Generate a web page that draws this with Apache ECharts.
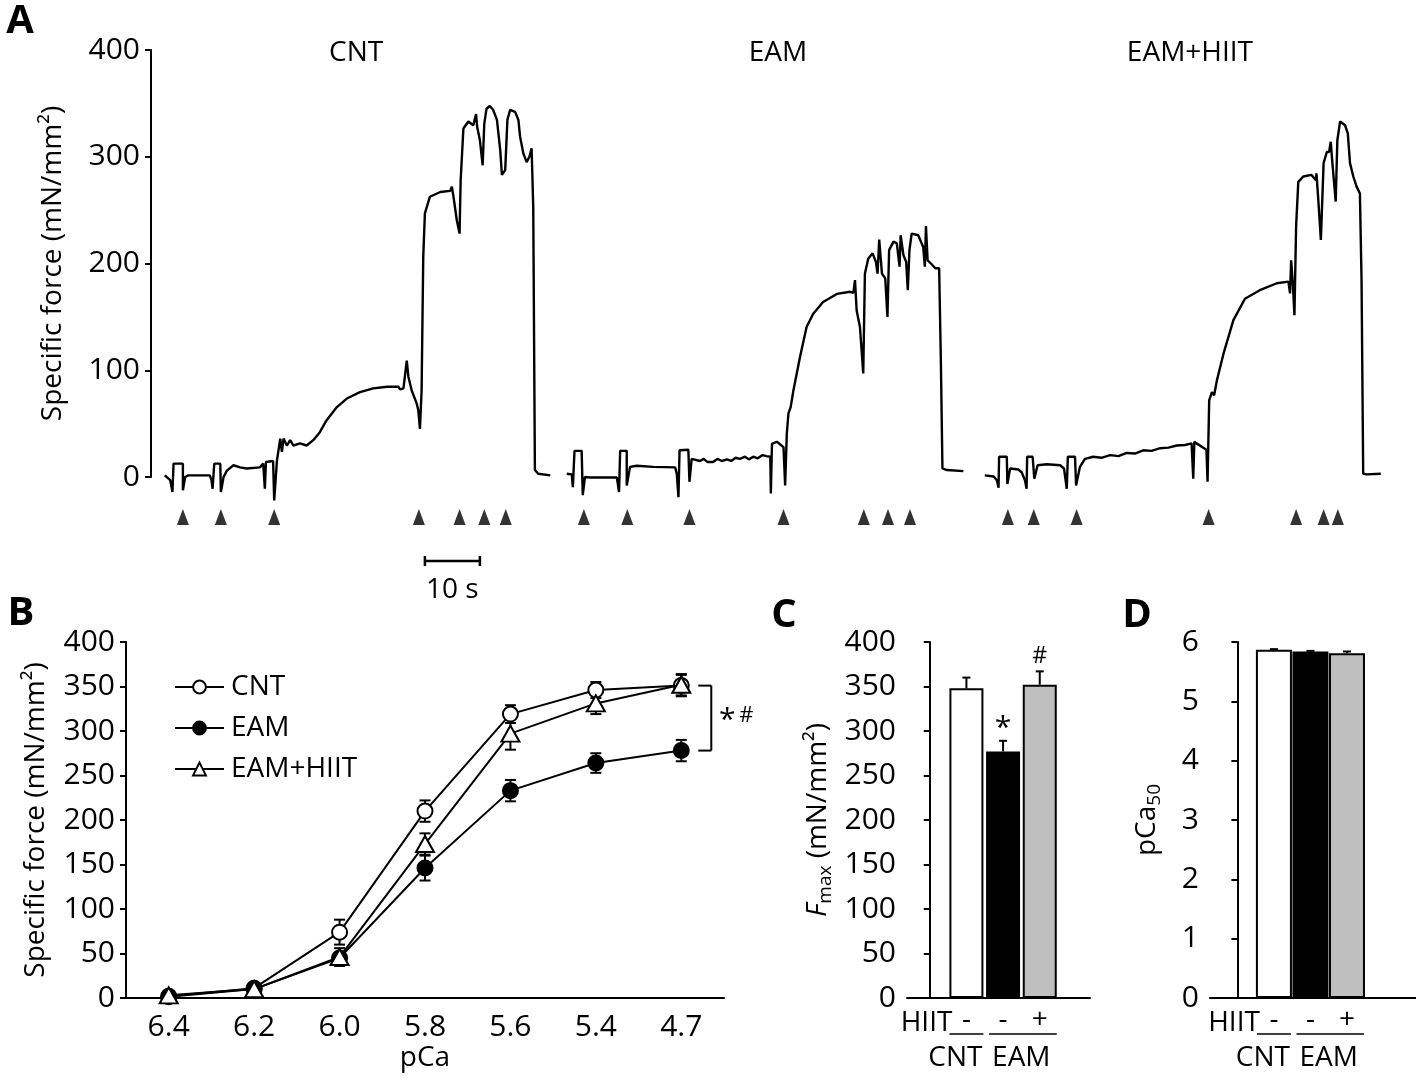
<!DOCTYPE html>
<html><head><meta charset="utf-8">
<script src="https://cdn.jsdelivr.net/npm/echarts@6/dist/echarts.min.js"></script>
<style>html,body{margin:0;padding:0;background:#fff}#c{width:1416px;height:1086px}</style>
</head><body><div id="c"></div>
<script>
// ---------- Panel A: force traces [time (s), specific force (mN/mm²)] ----------
const traceCNT = [[2.5,1.5],[3.5,-3],[3.9,-14],[4.1,12.5],[5.8,12.5],[5.8,-12.5],[6.2,0],[6.8,1.5],[10.7,1.5],[11.0,-3],[11.2,-11],[11.5,12.5],[12.6,12.5],[12.7,-14],[13.2,0],[13.8,6],[15.0,11],[16.2,9],[17.4,8],[19.8,9],[20.4,12.5],[20.7,-11],[20.9,14],[22.2,15],[22.4,-22],[22.9,15.5],[23.5,36],[23.8,23.5],[24.1,36],[24.7,29.5],[25.3,34.5],[25.9,29.5],[27.1,31.5],[28.3,29.5],[29.5,34.5],[30.7,42],[31.9,53],[33.8,65.5],[35.6,73.5],[38.0,79.5],[40.4,83],[42.9,84.5],[45.0,84.5],[45.3,82],[45.9,83],[46.5,109],[46.8,94],[47.4,81],[48.3,69],[48.6,62.5],[48.9,45],[49.2,81],[49.5,206],[49.8,247],[50.7,262.5],[52.6,267],[54.4,268],[54.7,272],[55.0,262.5],[55.6,240.5],[56.1,228],[56.3,278],[56.8,326.5],[57.7,333],[58.6,329.5],[59.1,340],[59.3,328],[59.8,315.5],[60.3,292],[60.6,331],[61.0,345],[61.6,347.5],[62.2,344],[62.9,334.5],[63.5,306],[63.8,283],[64.4,287.5],[64.8,334.5],[65.3,344],[66.2,342],[66.8,334.5],[67.1,319],[67.7,303],[68.3,295],[68.8,300],[69.2,308],[69.5,253],[69.8,6.5],[70.4,3],[72.6,1.5]];
const traceEAM = [[75.6,3],[76.5,2.5],[76.7,-9.5],[77.0,24.5],[78.3,24.5],[78.5,-17],[78.9,0],[79.8,-0.5],[84.7,-0.5],[85.1,-14],[85.3,24.5],[86.5,24.5],[86.5,-8],[87.1,9.5],[88.3,10.5],[91.3,9.5],[95.3,9],[95.6,3],[95.9,-19],[96.1,25],[97.7,25.5],[97.9,-4.5],[98.3,17],[99.8,15],[100.5,17],[101.2,14],[102.2,14],[103.0,17],[103.8,15],[104.7,16.5],[105.5,15],[106.3,18],[107.1,17],[108.0,19],[108.7,16.5],[109.5,19],[110.3,17.5],[111.2,20.5],[111.9,19.5],[112.6,19],[112.7,-15.5],[112.9,31],[113.8,33],[115.0,28],[115.3,-8],[115.6,40.5],[115.9,59.5],[116.3,65.5],[116.8,81],[118.0,112.5],[119.2,140.5],[120.4,153],[122.2,164],[124.7,171.5],[127.1,173.5],[127.7,172.5],[128.0,184.5],[128.3,156],[128.9,140.5],[129.5,97],[129.8,190.5],[130.4,204.5],[131.2,209.5],[131.8,201.5],[132.1,190.5],[132.4,222.5],[132.9,190.5],[133.5,186],[133.9,150],[134.2,212.5],[135.0,220.5],[135.6,219],[136.1,197],[136.3,226.5],[136.8,208],[137.3,201.5],[137.6,175],[137.9,212.5],[138.3,228],[139.5,226.5],[140.4,215.5],[140.7,197],[140.9,235],[141.2,203],[141.8,200],[142.6,195.5],[143.3,195.5],[143.6,112.5],[143.9,8],[144.7,6.5],[147.7,5.5]];
const traceHIIT = [[151.6,1.5],[153.2,0.5],[153.8,-3],[154.1,-10],[154.2,19],[155.6,19],[155.7,-6.5],[156.2,8],[157.7,7],[158.3,4.5],[158.9,-3],[159.2,-11],[159.3,19],[160.3,19],[160.6,-1.5],[161.2,11],[162.9,12],[165.3,11],[166.0,8],[166.5,-11],[166.7,19],[168.0,19],[168.2,-8],[168.9,9.5],[169.8,17],[171.3,19],[172.8,18],[174.4,20.5],[175.9,19.5],[177.4,22.5],[178.9,22],[180.4,25],[181.9,24.5],[183.5,27],[185.0,27.5],[186.5,29.5],[188.0,30],[189.2,31.5],[189.5,-1.5],[189.7,33],[190.1,31.5],[191.9,25.5],[192.1,-4.5],[192.4,72],[192.9,79.5],[193.3,76.5],[193.8,90.5],[195.0,115.5],[196.8,147],[198.9,167],[201.6,175],[204.7,181.5],[206.8,183],[207.1,172],[207.3,203],[207.6,181.5],[207.9,151.5],[208.2,234.5],[208.6,276.5],[209.5,281.5],[211.0,283],[211.8,278],[211.9,284.5],[212.2,262.5],[212.7,222],[213.2,294],[213.8,304.5],[214.2,304.5],[214.5,314],[214.8,294],[215.4,258],[215.7,315.5],[216.2,333],[217.1,329.5],[217.6,322],[218.0,294],[218.6,281.5],[219.2,272],[219.8,265.5],[220.1,184.5],[220.4,3],[221.0,2.5],[223.6,3]];
const stimTimes = [5.8,12.7,22.4,48.7,56.1,60.6,64.5, 78.7,86.6,97.9,115.0,129.6,134.0,138.0, 155.8,160.5,168.3,192.3,208.2,213.2,215.8];
const scaleBarSec = [[49.8, 10]];
const traceTitles = ['CNT','EAM','EAM+HIIT'];

// ---------- Panel B: force–pCa ----------
const pCaLabels = ['6.4','6.2','6.0','5.8','5.6','5.4','4.7'];
const forceCNT = [2, 11, 74, 210, 319, 346, 351];
const forceCNTErr = [3, 3, 14, 12, 10, 9, 12];
const forceEAM = [1.5, 10, 45, 146, 233, 264, 278];
const forceEAMErr = [3, 3, 6, 14, 12, 11, 12];
const forceHIIT = [3, 10, 46, 173, 297, 331, 352];
const forceHIITErr = [3, 3, 10, 12, 18, 12, 12];

// ---------- Panels C & D ----------
const groups = ['CNT','EAM','EAM+HIIT'];
const hiitSign = ['-','-','+'];
const fmax = [348, 277, 352];
const fmaxErr = [12, 12, 15];
const fmaxMarks = ['', '*', '#'];
const pca50 = [5.87, 5.84, 5.81];
const pca50Err = [0.01, 0.01, 0.03];
const barColors = ['#ffffff', '#000000', '#bfbfbf'];

const FF = 'Open Sans';
const FS = 28;
const TFS = 30;
const chart = echarts.init(document.getElementById('c'), null, {renderer:'canvas'});

const blackAxis = {lineStyle:{color:'#000', width:2}};
const yLab = {color:'#000', fontSize:TFS, fontFamily:FF, margin:11};

function errRender(capW, upOnly){
  return function(params, api){
    const x = api.value(0), v = api.value(1), e = api.value(2);
    const top = api.coord([x, v + e]);
    const bot = api.coord([x, upOnly ? v : v - e]);
    const st = {stroke:'#000', lineWidth:2};
    return {type:'group', children:[
      {type:'line', shape:{x1:top[0], y1:top[1], x2:bot[0], y2:bot[1]}, style:st},
      {type:'line', shape:{x1:top[0]-capW/2, y1:top[1], x2:top[0]+capW/2, y2:top[1]}, style:st},
      upOnly ? null : {type:'line', shape:{x1:bot[0]-capW/2, y1:bot[1], x2:bot[0]+capW/2, y2:bot[1]}, style:st}
    ].filter(Boolean)};
  };
}

const option = {
  animation:false,
  backgroundColor:'#fff',
  textStyle:{fontFamily:FF},
  grid:[
    {left:151, top:50, width:1254, height:427},
    {left:151, top:504, width:1254, height:26},
    {left:151, top:548, width:1254, height:26},
    {left:126, top:642, width:598, height:356},
    {left:907, top:642, width:183, height:356},
    {left:1210, top:642, width:206, height:356}
  ],
  xAxis:[
    {gridIndex:0, type:'value', min:0, max:228, show:false},
    {gridIndex:1, type:'value', min:0, max:228, show:false},
    {gridIndex:2, type:'value', min:0, max:228, show:false},
    {gridIndex:3, type:'category', data:pCaLabels, boundaryGap:true,
      axisLine:blackAxis, axisTick:{show:false},
      axisLabel:{color:'#000', fontSize:TFS, fontFamily:FF, margin:14},
      name:'pCa', nameLocation:'middle', nameGap:46,
      nameTextStyle:{color:'#000', fontSize:FS, fontFamily:FF}},
    {gridIndex:4, type:'value', min:-0.62, max:4.37, axisLine:blackAxis,
      axisTick:{show:false}, axisLabel:{show:false}, splitLine:{show:false}},
    {gridIndex:5, type:'value', min:-0.75, max:4.89, axisLine:blackAxis,
      axisTick:{show:false}, axisLabel:{show:false}, splitLine:{show:false}}
  ],
  yAxis:[
    {gridIndex:0, type:'value', min:0, max:400, interval:100,
      axisLine:{show:true, lineStyle:{color:'#000', width:2}},
      axisTick:{show:true, length:6, lineStyle:{color:'#000', width:2}},
      axisLabel:yLab, splitLine:{show:false},
      name:'Specific force (mN/mm²)', nameLocation:'middle', nameGap:84,
      nameTextStyle:{color:'#000', fontSize:FS, fontFamily:FF}},
    {gridIndex:1, type:'value', min:0, max:1, show:false},
    {gridIndex:2, type:'value', min:0, max:1, show:false},
    {gridIndex:3, type:'value', min:0, max:400, interval:50,
      axisLine:{show:true, lineStyle:{color:'#000', width:2}},
      axisTick:{show:true, length:6, lineStyle:{color:'#000', width:2}},
      axisLabel:yLab, splitLine:{show:false},
      name:'Specific force (mN/mm²)', nameLocation:'middle', nameGap:76,
      nameTextStyle:{color:'#000', fontSize:FS, fontFamily:FF}},
    {gridIndex:4, type:'value', min:0, max:400, interval:50,
      axisLine:{show:true, lineStyle:{color:'#000', width:2}},
      axisTick:{show:true, length:6, lineStyle:{color:'#000', width:2}},
      axisLabel:yLab, splitLine:{show:false},
      name:'{i|F}{s|max} (mN/mm²)', nameLocation:'middle', nameGap:72,
      nameTextStyle:{color:'#000', fontSize:FS, fontFamily:FF,
        rich:{i:{fontStyle:'italic', fontSize:FS, fontFamily:FF, color:'#000'},
              s:{fontSize:19, fontFamily:FF, color:'#000', padding:[14,0,0,0]}}}},
    {gridIndex:5, type:'value', min:0, max:6, interval:1,
      axisLine:{show:true, lineStyle:{color:'#000', width:2}},
      axisTick:{show:true, length:6, lineStyle:{color:'#000', width:2}},
      axisLabel:yLab, splitLine:{show:false},
      name:'{n|pCa}{s|50}', nameLocation:'middle', nameGap:46,
      nameTextStyle:{color:'#000', fontSize:FS, fontFamily:FF,
        rich:{n:{fontSize:FS, fontFamily:FF, color:'#000'},
              s:{fontSize:19, fontFamily:FF, color:'#000', padding:[14,0,0,0]}}}}
  ],
  legend:{
    orient:'vertical', left:169, top:668, itemWidth:49, itemHeight:16, itemGap:13,
    data:['CNT','EAM','EAM+HIIT'],
    textStyle:{color:'#000', fontSize:FS, fontFamily:FF, padding:[0,0,0,2]}
  },
  series:[
    ...[traceCNT, traceEAM, traceHIIT].map((d,i)=>({
      type:'line', name:'trace'+i, xAxisIndex:0, yAxisIndex:0, data:d,
      showSymbol:false, symbol:'none', clip:false,
      lineStyle:{color:'#000', width:2.4}, silent:true
    })),
    {type:'scatter', xAxisIndex:1, yAxisIndex:1, data:stimTimes.map(t=>[t,0.5]),
      symbol:'triangle', symbolSize:[12,16], itemStyle:{color:'#000'}, silent:true},
    {type:'custom', xAxisIndex:2, yAxisIndex:2, data:scaleBarSec, silent:true,
      renderItem:function(params, api){
        const s = api.value(0), len = api.value(1);
        const p0 = api.coord([s, 0.5]), p1 = api.coord([s+len, 0.5]);
        const st = {stroke:'#000', lineWidth:2.5};
        return {type:'group', children:[
          {type:'line', shape:{x1:p0[0], y1:p0[1], x2:p1[0], y2:p1[1]}, style:st},
          {type:'line', shape:{x1:p0[0], y1:p0[1]-5, x2:p0[0], y2:p0[1]+5}, style:st},
          {type:'line', shape:{x1:p1[0], y1:p1[1]-5, x2:p1[0], y2:p1[1]+5}, style:st},
          {type:'text', x:(p0[0]+p1[0])/2, y:p0[1]+29,
            style:{text:len+' s', fill:'#000', fontSize:FS, fontFamily:FF,
              align:'center', verticalAlign:'middle', textAlign:'center', textVerticalAlign:'middle'}}
        ]};
      }},
    ...[[forceCNT,forceCNTErr],[forceEAM,forceEAMErr],[forceHIIT,forceHIITErr]].map(([v,e])=>({
      type:'custom', xAxisIndex:3, yAxisIndex:3, z:1, silent:true,
      data:v.map((y,i)=>[i, y, e[i]]), renderItem:errRender(11, false)
    })),
    {type:'line', name:'CNT', xAxisIndex:3, yAxisIndex:3, data:forceCNT, z:3,
      symbol:'circle', symbolSize:15, lineStyle:{color:'#000', width:2},
      itemStyle:{color:'#fff', borderColor:'#000', borderWidth:2}},
    {type:'line', name:'EAM', xAxisIndex:3, yAxisIndex:3, data:forceEAM, z:3,
      symbol:'circle', symbolSize:15, lineStyle:{color:'#000', width:2},
      itemStyle:{color:'#000', borderColor:'#000', borderWidth:2}},
    {type:'line', name:'EAM+HIIT', xAxisIndex:3, yAxisIndex:3, data:forceHIIT, z:4,
      symbol:'triangle', symbolSize:[18,16], lineStyle:{color:'#000', width:2},
      itemStyle:{color:'#fff', borderColor:'#000', borderWidth:2}},
    {type:'custom', xAxisIndex:4, yAxisIndex:4, z:1, silent:true,
      data:fmax.map((v,i)=>[i+1, v, fmaxErr[i]]), renderItem:errRender(8, true)},
    {type:'bar', xAxisIndex:4, yAxisIndex:4, barWidth:34, z:2, silent:true,
      data:fmax.map((v,i)=>({value:[i+1, v], itemStyle:{color:barColors[i], borderColor:'#000', borderWidth:2}}))},
    {type:'custom', xAxisIndex:5, yAxisIndex:5, z:1, silent:true,
      data:pca50.map((v,i)=>[i+1, v, pca50Err[i]]), renderItem:errRender(8, true)},
    {type:'bar', xAxisIndex:5, yAxisIndex:5, barWidth:36, z:2, silent:true,
      data:pca50.map((v,i)=>({value:[i+1, v], itemStyle:{color:barColors[i], borderColor:'#000', borderWidth:2}}))}
  ]
};
chart.setOption(option);

// ---------- annotations positioned through the axes ----------
const g = [];
const txt = (x,y,text,opt)=>Object.assign({type:'text', x, y, silent:true,
  style:Object.assign({text, fill:'#000', fontSize:FS, fontFamily:FF,
    align:'center', verticalAlign:'middle', textAlign:'center', textVerticalAlign:'middle'}, opt||{})});
const hline = (x1,y1,x2,y2,w)=>({type:'line', silent:true, shape:{x1,y1,x2,y2}, style:{stroke:'#000', lineWidth:w||2}});

g.push(txt(20, 22, 'A', {fontSize:40, fontWeight:'bold'}));
g.push(txt(21, 614, 'B', {fontSize:40, fontWeight:'bold'}));
g.push(txt(784, 616, 'C', {fontSize:40, fontWeight:'bold'}));
g.push(txt(1137, 616, 'D', {fontSize:40, fontWeight:'bold'}));

const titleTimes = [37.3, 114.0, 188.9];
traceTitles.forEach((t,i)=>{
  const p = chart.convertToPixel({xAxisIndex:0, yAxisIndex:0}, [titleTimes[i], 400]);
  g.push(txt(p[0], p[1]+3, t));
});

{
  const a = chart.convertToPixel({xAxisIndex:3, yAxisIndex:3}, [6, forceCNT[6]]);
  const b = chart.convertToPixel({xAxisIndex:3, yAxisIndex:3}, [6, forceEAM[6]]);
  const x1 = a[0]+17, x2 = a[0]+30;
  g.push(hline(x1, a[1], x2, a[1]));
  g.push(hline(x2, a[1], x2, b[1]));
  g.push(hline(x1, b[1], x2, b[1]));
  g.push(txt(x2+16, (a[1]+b[1])/2 + 2, '*', {fontSize:30}));
  g.push(txt(x2+35, (a[1]+b[1])/2 - 2, '#', {fontSize:22}));
}

fmax.forEach((v,i)=>{
  if(!fmaxMarks[i]) return;
  const p = chart.convertToPixel({xAxisIndex:4, yAxisIndex:4}, [i+1, v + fmaxErr[i]]);
  if(fmaxMarks[i]==='*') g.push(txt(p[0], p[1]-12, '*', {fontSize:30}));
  else g.push(txt(p[0], p[1]-15, '#', {fontSize:23}));
});

function groupLabels(xi, yi, bw){
  const pts = groups.map((_,i)=>chart.convertToPixel({xAxisIndex:xi, yAxisIndex:yi}, [i+1, 0]));
  const y0 = pts[0][1];
  g.push(txt(pts[0][0]-14, y0+25, 'HIIT', {align:'right', textAlign:'right'}));
  pts.forEach((p,i)=>g.push(txt(p[0], y0+22, hiitSign[i])));
  g.push(hline(pts[0][0]-bw/2, y0+36, pts[0][0]+bw/2, y0+36, 1.5));
  g.push(hline(pts[1][0]-bw/2+3, y0+36, pts[2][0]+bw/2, y0+36, 1.5));
  g.push(txt(pts[0][0]+bw/2-1, y0+60, 'CNT', {align:'right', textAlign:'right'}));
  g.push(txt(pts[1][0]-bw/2+6, y0+60, 'EAM', {align:'left', textAlign:'left'}));
}
groupLabels(4, 4, 34);
groupLabels(5, 5, 34);

chart.setOption({graphic:{elements:g}});
</script>
</body></html>
